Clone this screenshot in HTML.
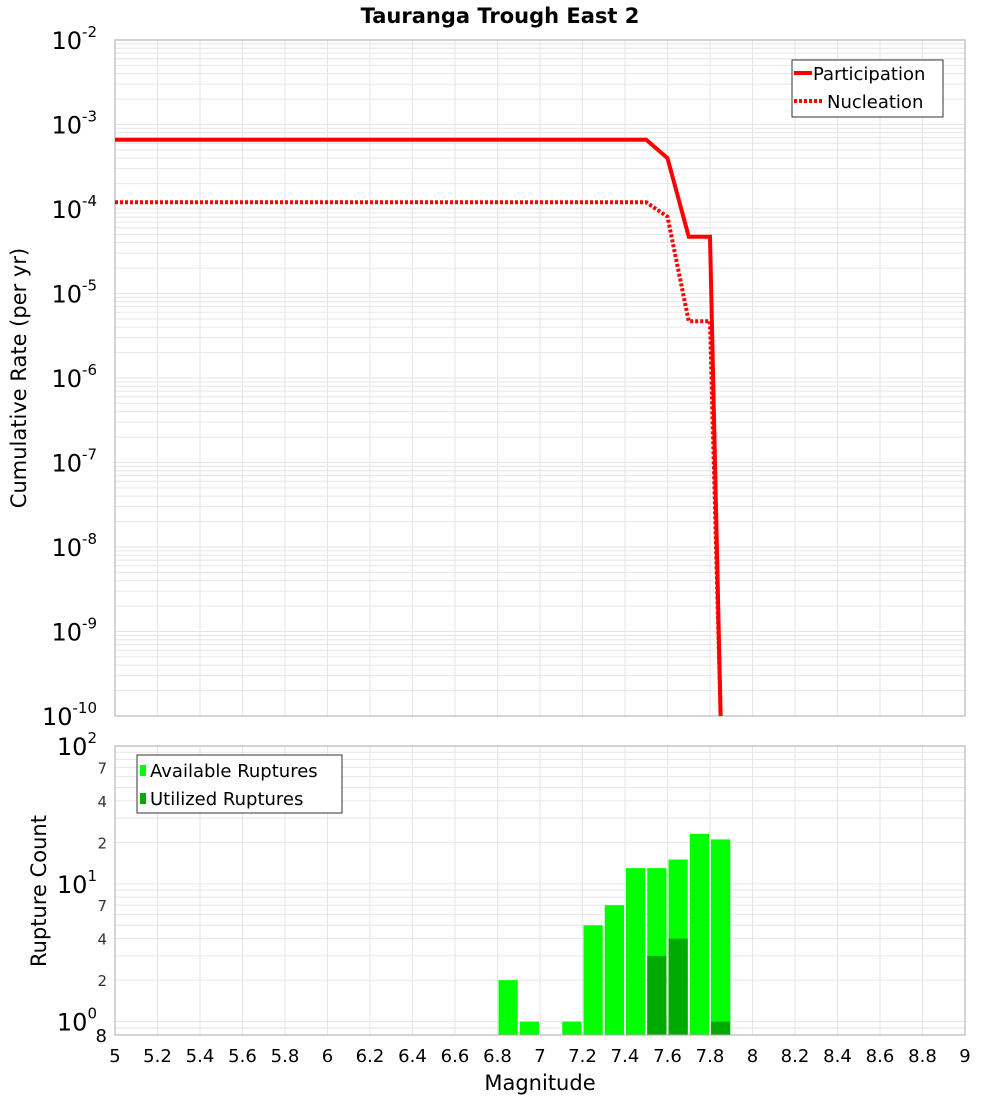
<!DOCTYPE html>
<html><head><meta charset="utf-8"><style>
body{margin:0;background:#fff;}
svg{font-family:"DejaVu Sans","Liberation Sans",sans-serif;}
</style></head><body>
<svg id="c" width="1000" height="1100" xmlns="http://www.w3.org/2000/svg">
<text x="500" y="23" text-anchor="middle" font-size="21" font-weight="bold">Tauranga Trough East 2</text>
<g id="topG"></g>
<g id="botG"></g>
<text transform="translate(26,378) rotate(-90)" text-anchor="middle" font-size="21">Cumulative Rate (per yr)</text>
<text transform="translate(46,891) rotate(-90)" text-anchor="middle" font-size="21">Rupture Count</text>
<text x="540" y="1090" text-anchor="middle" font-size="21">Magnitude</text>
</svg>
<script>
const partMag=[5.0,7.5,7.6,7.7,7.8,7.85];
const partRate=[6.6e-4,6.6e-4,4.0e-4,4.7e-5,4.7e-5,1e-10];
const nuclMag=[5.0,7.5,7.6,7.7,7.8,7.85];
const nuclRate=[1.2e-4,1.2e-4,8.1e-5,4.7e-6,4.7e-6,1e-10];
const binMag=[6.85,6.95,7.15,7.25,7.35,7.45,7.55,7.65,7.75,7.85];
const availCount=[2,1,1,5,7,13,13,15,23,21];
const usedCount=[0,0,0,0,0,0,3,4,0,1];
const xTicks=[5,5.2,5.4,5.6,5.8,6,6.2,6.4,6.6,6.8,7,7.2,7.4,7.6,7.8,8,8.2,8.4,8.6,8.8,9];
const topExps=[-2,-3,-4,-5,-6,-7,-8,-9,-10];
const botMinor=[2,4,7,20,40,70];

const NS='http://www.w3.org/2000/svg';
function mk(p,t,a){const e=document.createElementNS(NS,t);for(const k in a)e.setAttribute(k,a[k]);p.appendChild(e);return e;}
const L=115,R=965;
const X=m=>L+(m-5)/4*(R-L);
const T0=40,T1=716;
const YT=v=>T0+(-2-Math.log10(v))/8*(T1-T0);
const B0=746,B1=1035;
const YB=v=>B1-(Math.log10(v)-Math.log10(0.8))/(2-Math.log10(0.8))*(B1-B0);
const topG=document.getElementById('topG'),botG=document.getElementById('botG');
for(let e=-10;e<-2;e++)for(let k=1;k<10;k++){const y=YT(k*Math.pow(10,e));
 const g=mk(topG,'line',{x1:L,x2:R,y1:y,y2:y,stroke:'#e6e6e6','stroke-width':1});
 
 }
for(const t of xTicks){
 const g=mk(topG,'line',{x1:X(t),x2:X(t),y1:T0,y2:T1,stroke:'#e6e6e6'});
 
 
 const g2=mk(botG,'line',{x1:X(t),x2:X(t),y1:B0,y2:B1,stroke:'#e6e6e6'});
 
 
 const tx=mk(botG,'text',{x:X(t),y:1062,'text-anchor':'middle','font-size':18});
 tx.textContent=String(t);
 
 
}
for(const e of topExps){const y=YT(Math.pow(10,e));
 const tx=mk(topG,'text',{x:97,y:y+9,'text-anchor':'end','font-size':24});
 tx.innerHTML='10<tspan dy="-12" font-size="15">'+e+'</tspan>';
 
 }
mk(topG,'rect',{x:L,y:T0,width:R-L,height:T1-T0,fill:'none',stroke:'#aaa'});
function line(xs,ys,dash){let d='';xs.forEach((m,i)=>{d+=(i?'L':'M')+X(m)+','+YT(ys[i]);});
 const p=mk(topG,'path',{d:d,fill:'none',stroke:'#ff0000','stroke-width':4});
 if(dash)p.setAttribute('stroke-dasharray','3,2');return p;}
const p1=line(partMag,partRate,false);


const p2=line(nuclMag,nuclRate,true);


const lg=mk(topG,'g',{});


mk(lg,'rect',{x:792,y:60,width:151,height:57,fill:'#fff',stroke:'#333'});
mk(lg,'line',{x1:794,x2:812,y1:73,y2:73,stroke:'#f00','stroke-width':4});
mk(lg,'line',{x1:794,x2:824,y1:101,y2:101,stroke:'#f00','stroke-width':4,'stroke-dasharray':'3,2'});
let t1=mk(lg,'text',{x:813,y:80,'font-size':18});t1.textContent='Participation';


let t2=mk(lg,'text',{x:827,y:108,'font-size':18});t2.textContent='Nucleation';


const bl=[0.8,0.9,1,2,3,4,5,6,7,8,9,10,20,30,40,50,60,70,80,90,100];
for(const v of bl){const y=YB(v);
 const g=mk(botG,'line',{x1:L,x2:R,y1:y,y2:y,stroke:'#e6e6e6'});
 
 }
for(const v of botMinor){const tx=mk(botG,'text',{x:107,y:YB(v)+6,'text-anchor':'end','font-size':15,fill:'#333'});
 tx.textContent=String(v).replace(/0$/,'');
 
 }
[[0,1],[1,10],[2,100]].forEach(([e,v])=>{const tx=mk(botG,'text',{x:97,y:YB(v)+9,'text-anchor':'end','font-size':24});
 tx.innerHTML='10<tspan dy="-12" font-size="15">'+e+'</tspan>';
 
 });
let t8=mk(botG,'text',{x:107,y:1042,'text-anchor':'end','font-size':18});t8.textContent='8';


binMag.forEach((m,i)=>{const x0=X(m-0.05)+1,w=X(m+0.05)-X(m-0.05)-2;
 if(availCount[i]>0){const y=YB(availCount[i]);
  const r=mk(botG,'rect',{x:x0,y:y,width:w,height:B1-y,fill:'#00ff00'});
  
  }
 if(usedCount[i]>0){const y=YB(usedCount[i]);
  const r=mk(botG,'rect',{x:x0,y:y,width:w,height:B1-y,fill:'#00aa00'});
  
  }
});
mk(botG,'rect',{x:L,y:B0,width:R-L,height:B1-B0,fill:'none',stroke:'#aaa'});
const lg2=mk(botG,'g',{});


mk(lg2,'rect',{x:137,y:755,width:205,height:58,fill:'#fff',stroke:'#333'});
mk(lg2,'rect',{x:140,y:765,width:6,height:11,fill:'#00ff00'});
mk(lg2,'rect',{x:140,y:793,width:6,height:11,fill:'#00aa00'});
let t3=mk(lg2,'text',{x:150,y:777,'font-size':18});t3.textContent='Available Ruptures';


let t4=mk(lg2,'text',{x:150,y:805,'font-size':18});t4.textContent='Utilized Ruptures';


</script>
</body></html>
